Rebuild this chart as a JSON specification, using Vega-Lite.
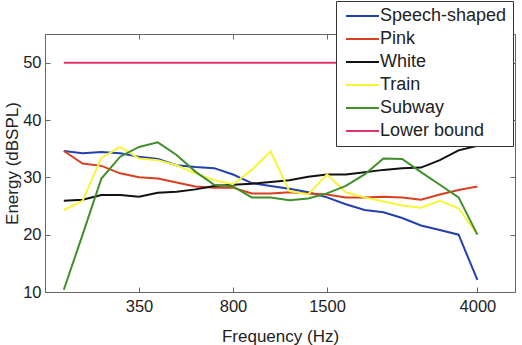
{
  "$schema": "https://vega.github.io/schema/vega-lite/v6.json",
  "autosize": "none",
  "width": 470,
  "height": 258,
  "padding": {"left": 45, "top": 34, "right": 7, "bottom": 53},
  "background": "white",
  "config": {
    "font": "Liberation Sans",
    "view": {"stroke": "#666", "strokeWidth": 1},
    "axis": {
      "grid": false,
      "domainColor": "#666",
      "tickColor": "#666",
      "labelColor": "#222",
      "titleColor": "#222",
      "labelFont": "Liberation Sans",
      "titleFont": "Liberation Sans",
      "labelFontSize": 16.5,
      "titleFontSize": 17,
      "titleFontWeight": "normal"
    },
    "legend": {
      "labelFont": "Liberation Sans",
      "labelFontSize": 18,
      "labelColor": "#222"
    }
  },
  "data": {
    "values": [
      {"channel": 1, "noise": "Speech-shaped", "energy": 34.6},
      {"channel": 2, "noise": "Speech-shaped", "energy": 34.2},
      {"channel": 3, "noise": "Speech-shaped", "energy": 34.4},
      {"channel": 4, "noise": "Speech-shaped", "energy": 34.2},
      {"channel": 5, "noise": "Speech-shaped", "energy": 33.6},
      {"channel": 6, "noise": "Speech-shaped", "energy": 33.2},
      {"channel": 7, "noise": "Speech-shaped", "energy": 32.1},
      {"channel": 8, "noise": "Speech-shaped", "energy": 31.8},
      {"channel": 9, "noise": "Speech-shaped", "energy": 31.6},
      {"channel": 10, "noise": "Speech-shaped", "energy": 30.5},
      {"channel": 11, "noise": "Speech-shaped", "energy": 29.0},
      {"channel": 12, "noise": "Speech-shaped", "energy": 28.5},
      {"channel": 13, "noise": "Speech-shaped", "energy": 28.0},
      {"channel": 14, "noise": "Speech-shaped", "energy": 27.4},
      {"channel": 15, "noise": "Speech-shaped", "energy": 26.5},
      {"channel": 16, "noise": "Speech-shaped", "energy": 25.3},
      {"channel": 17, "noise": "Speech-shaped", "energy": 24.3},
      {"channel": 18, "noise": "Speech-shaped", "energy": 23.9},
      {"channel": 19, "noise": "Speech-shaped", "energy": 22.9},
      {"channel": 20, "noise": "Speech-shaped", "energy": 21.6},
      {"channel": 21, "noise": "Speech-shaped", "energy": 20.8},
      {"channel": 22, "noise": "Speech-shaped", "energy": 20.0},
      {"channel": 23, "noise": "Speech-shaped", "energy": 12.1},

      {"channel": 1, "noise": "Pink", "energy": 34.6},
      {"channel": 2, "noise": "Pink", "energy": 32.4},
      {"channel": 3, "noise": "Pink", "energy": 32.0},
      {"channel": 4, "noise": "Pink", "energy": 30.7},
      {"channel": 5, "noise": "Pink", "energy": 30.0},
      {"channel": 6, "noise": "Pink", "energy": 29.8},
      {"channel": 7, "noise": "Pink", "energy": 29.1},
      {"channel": 8, "noise": "Pink", "energy": 28.4},
      {"channel": 9, "noise": "Pink", "energy": 28.2},
      {"channel": 10, "noise": "Pink", "energy": 28.2},
      {"channel": 11, "noise": "Pink", "energy": 27.2},
      {"channel": 12, "noise": "Pink", "energy": 27.2},
      {"channel": 13, "noise": "Pink", "energy": 27.4},
      {"channel": 14, "noise": "Pink", "energy": 27.2},
      {"channel": 15, "noise": "Pink", "energy": 27.0},
      {"channel": 16, "noise": "Pink", "energy": 26.5},
      {"channel": 17, "noise": "Pink", "energy": 26.5},
      {"channel": 18, "noise": "Pink", "energy": 26.6},
      {"channel": 19, "noise": "Pink", "energy": 26.5},
      {"channel": 20, "noise": "Pink", "energy": 26.1},
      {"channel": 21, "noise": "Pink", "energy": 27.0},
      {"channel": 22, "noise": "Pink", "energy": 27.8},
      {"channel": 23, "noise": "Pink", "energy": 28.4},

      {"channel": 1, "noise": "White", "energy": 25.9},
      {"channel": 2, "noise": "White", "energy": 26.1},
      {"channel": 3, "noise": "White", "energy": 26.9},
      {"channel": 4, "noise": "White", "energy": 26.9},
      {"channel": 5, "noise": "White", "energy": 26.6},
      {"channel": 6, "noise": "White", "energy": 27.3},
      {"channel": 7, "noise": "White", "energy": 27.5},
      {"channel": 8, "noise": "White", "energy": 27.9},
      {"channel": 9, "noise": "White", "energy": 28.5},
      {"channel": 10, "noise": "White", "energy": 28.7},
      {"channel": 11, "noise": "White", "energy": 28.9},
      {"channel": 12, "noise": "White", "energy": 29.2},
      {"channel": 13, "noise": "White", "energy": 29.5},
      {"channel": 14, "noise": "White", "energy": 30.1},
      {"channel": 15, "noise": "White", "energy": 30.5},
      {"channel": 16, "noise": "White", "energy": 30.5},
      {"channel": 17, "noise": "White", "energy": 30.9},
      {"channel": 18, "noise": "White", "energy": 31.3},
      {"channel": 19, "noise": "White", "energy": 31.6},
      {"channel": 20, "noise": "White", "energy": 31.7},
      {"channel": 21, "noise": "White", "energy": 33.0},
      {"channel": 22, "noise": "White", "energy": 34.7},
      {"channel": 23, "noise": "White", "energy": 35.5},

      {"channel": 1, "noise": "Train", "energy": 24.3},
      {"channel": 2, "noise": "Train", "energy": 25.9},
      {"channel": 3, "noise": "Train", "energy": 33.4},
      {"channel": 4, "noise": "Train", "energy": 35.3},
      {"channel": 5, "noise": "Train", "energy": 33.3},
      {"channel": 6, "noise": "Train", "energy": 33.0},
      {"channel": 7, "noise": "Train", "energy": 32.1},
      {"channel": 8, "noise": "Train", "energy": 30.7},
      {"channel": 9, "noise": "Train", "energy": 29.5},
      {"channel": 10, "noise": "Train", "energy": 28.8},
      {"channel": 11, "noise": "Train", "energy": 31.3},
      {"channel": 12, "noise": "Train", "energy": 34.5},
      {"channel": 13, "noise": "Train", "energy": 27.6},
      {"channel": 14, "noise": "Train", "energy": 27.0},
      {"channel": 15, "noise": "Train", "energy": 30.5},
      {"channel": 16, "noise": "Train", "energy": 27.4},
      {"channel": 17, "noise": "Train", "energy": 26.5},
      {"channel": 18, "noise": "Train", "energy": 25.8},
      {"channel": 19, "noise": "Train", "energy": 25.1},
      {"channel": 20, "noise": "Train", "energy": 24.7},
      {"channel": 21, "noise": "Train", "energy": 25.9},
      {"channel": 22, "noise": "Train", "energy": 24.6},
      {"channel": 23, "noise": "Train", "energy": 20.0},

      {"channel": 1, "noise": "Subway", "energy": 10.4},
      {"channel": 2, "noise": "Subway", "energy": 20.0},
      {"channel": 3, "noise": "Subway", "energy": 29.8},
      {"channel": 4, "noise": "Subway", "energy": 33.6},
      {"channel": 5, "noise": "Subway", "energy": 35.3},
      {"channel": 6, "noise": "Subway", "energy": 36.1},
      {"channel": 7, "noise": "Subway", "energy": 33.9},
      {"channel": 8, "noise": "Subway", "energy": 31.0},
      {"channel": 9, "noise": "Subway", "energy": 28.7},
      {"channel": 10, "noise": "Subway", "energy": 28.4},
      {"channel": 11, "noise": "Subway", "energy": 26.5},
      {"channel": 12, "noise": "Subway", "energy": 26.5},
      {"channel": 13, "noise": "Subway", "energy": 26.0},
      {"channel": 14, "noise": "Subway", "energy": 26.3},
      {"channel": 15, "noise": "Subway", "energy": 27.2},
      {"channel": 16, "noise": "Subway", "energy": 28.5},
      {"channel": 17, "noise": "Subway", "energy": 30.5},
      {"channel": 18, "noise": "Subway", "energy": 33.3},
      {"channel": 19, "noise": "Subway", "energy": 33.2},
      {"channel": 20, "noise": "Subway", "energy": 30.9},
      {"channel": 21, "noise": "Subway", "energy": 28.7},
      {"channel": 22, "noise": "Subway", "energy": 26.5},
      {"channel": 23, "noise": "Subway", "energy": 20.0},

      {"channel": 1, "noise": "Lower bound", "energy": 50},
      {"channel": 2, "noise": "Lower bound", "energy": 50},
      {"channel": 3, "noise": "Lower bound", "energy": 50},
      {"channel": 4, "noise": "Lower bound", "energy": 50},
      {"channel": 5, "noise": "Lower bound", "energy": 50},
      {"channel": 6, "noise": "Lower bound", "energy": 50},
      {"channel": 7, "noise": "Lower bound", "energy": 50},
      {"channel": 8, "noise": "Lower bound", "energy": 50},
      {"channel": 9, "noise": "Lower bound", "energy": 50},
      {"channel": 10, "noise": "Lower bound", "energy": 50},
      {"channel": 11, "noise": "Lower bound", "energy": 50},
      {"channel": 12, "noise": "Lower bound", "energy": 50},
      {"channel": 13, "noise": "Lower bound", "energy": 50},
      {"channel": 14, "noise": "Lower bound", "energy": 50},
      {"channel": 15, "noise": "Lower bound", "energy": 50},
      {"channel": 16, "noise": "Lower bound", "energy": 50},
      {"channel": 17, "noise": "Lower bound", "energy": 50},
      {"channel": 18, "noise": "Lower bound", "energy": 50},
      {"channel": 19, "noise": "Lower bound", "energy": 50},
      {"channel": 20, "noise": "Lower bound", "energy": 50},
      {"channel": 21, "noise": "Lower bound", "energy": 50},
      {"channel": 22, "noise": "Lower bound", "energy": 50},
      {"channel": 23, "noise": "Lower bound", "energy": 50}
    ]
  },
  "layer": [
    {
      "transform": [{"filter": "datum.noise != 'Lower bound'"}],
      "mark": {"type": "line", "strokeWidth": 2},
      "encoding": {
        "x": {
          "field": "channel",
          "type": "quantitative",
          "scale": {"domain": [0, 25], "nice": false, "zero": false},
          "axis": {
            "orient": "bottom",
            "values": [5, 10, 15, 23],
            "labelExpr": "datum.value == 5 ? '350' : datum.value == 10 ? '800' : datum.value == 15 ? '1500' : '4000'",
            "tickSize": -5,
            "labelPadding": 11,
            "title": "Frequency (Hz)",
            "titleX": 235,
            "titleY": 44,
            "titleAlign": "center",
            "titleBaseline": "middle"
          }
        },
        "y": {
          "field": "energy",
          "type": "quantitative",
          "scale": {"domain": [10, 55], "nice": false, "zero": false},
          "axis": {
            "orient": "left",
            "values": [10, 20, 30, 40, 50],
            "tickSize": -5,
            "labelPadding": 9,
            "title": "Energy (dBSPL)",
            "titleAngle": -90,
            "titleX": -33,
            "titleY": 129,
            "titleAlign": "center",
            "titleBaseline": "middle"
          }
        },
        "color": {
          "field": "noise",
          "type": "nominal",
          "sort": ["Speech-shaped", "Pink", "White", "Train", "Subway", "Lower bound"],
          "scale": {
            "domain": ["Speech-shaped", "Pink", "White", "Train", "Subway", "Lower bound"],
            "range": ["#2340b0", "#d9401e", "#111111", "#f7f53a", "#3f8f2a", "#e0356a"]
          },
          "legend": {
            "title": null,
            "orient": "none",
            "legendX": 291,
            "legendY": -33,
            "symbolType": "M-1,0H5.6",
            "symbolSize": 100,
            "symbolStrokeWidth": 2,
            "labelOffset": 20,
            "rowPadding": 5,
            "padding": 6,
            "strokeColor": "#333",
            "fillColor": "white"
          }
        }
      }
    },
    {
      "transform": [{"filter": "datum.noise == 'Lower bound'"}],
      "mark": {"type": "line", "strokeWidth": 2},
      "encoding": {
        "x": {
          "field": "channel",
          "type": "quantitative",
          "scale": {"domain": [0, 25], "nice": false, "zero": false},
          "axis": {
            "orient": "top",
            "values": [5, 10, 15, 23],
            "labels": false,
            "domain": false,
            "tickSize": -5,
            "title": null
          }
        },
        "y": {
          "field": "energy",
          "type": "quantitative",
          "scale": {"domain": [10, 55], "nice": false, "zero": false},
          "axis": {
            "orient": "right",
            "values": [10, 20, 30, 40, 50],
            "labels": false,
            "domain": false,
            "tickSize": -5,
            "title": null
          }
        },
        "color": {
          "field": "noise",
          "type": "nominal",
          "sort": ["Speech-shaped", "Pink", "White", "Train", "Subway", "Lower bound"],
          "scale": {
            "domain": ["Speech-shaped", "Pink", "White", "Train", "Subway", "Lower bound"],
            "range": ["#2340b0", "#d9401e", "#111111", "#f7f53a", "#3f8f2a", "#e0356a"]
          }
        }
      }
    }
  ],
  "resolve": {"axis": {"x": "independent", "y": "independent"}}
}
